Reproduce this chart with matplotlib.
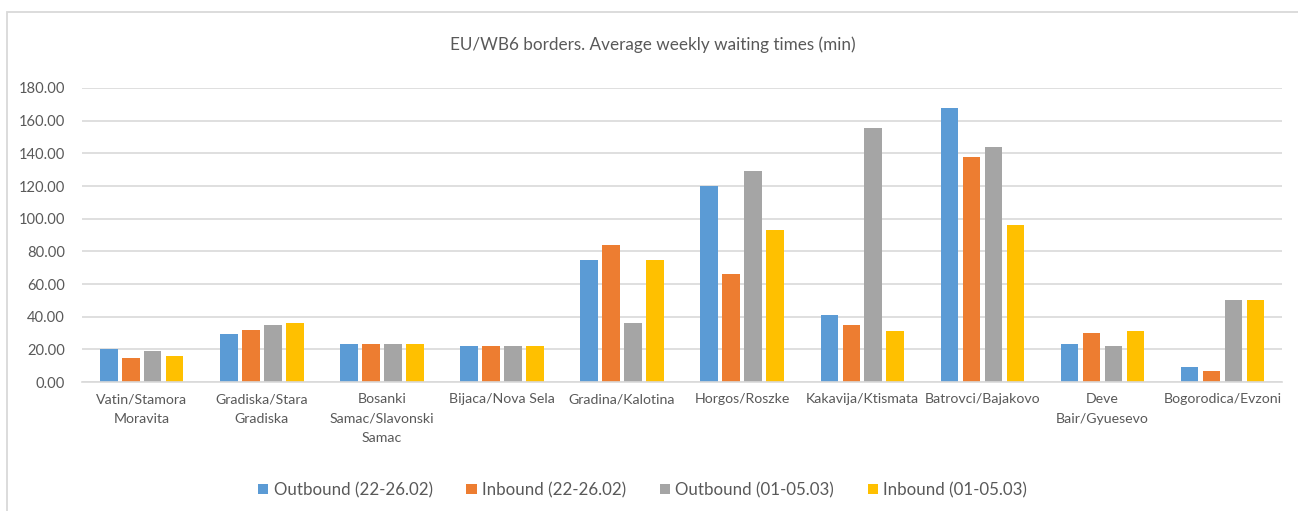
import numpy as np
import matplotlib
matplotlib.use('Agg')
import matplotlib.pyplot as plt
from matplotlib.patches import Rectangle

plt.rcParams['font.family'] = ['Lato', 'DejaVu Sans']

crossings = ['Vatin/Stamora\nMoravita', 'Gradiska/Stara\nGradiska', 'Bosanki\nSamac/Slavonski\nSamac',
             'Bijaca/Nova Sela', 'Gradina/Kalotina', 'Horgos/Roszke', 'Kakavija/Ktismata',
             'Batrovci/Bajakovo', 'Deve\nBair/Gyuesevo', 'Bogorodica/Evzoni']
out_feb = [20, 29.5, 23, 22, 75, 120, 41, 168, 23, 9]
in_feb = [15, 32, 23, 22, 84, 66, 35, 138, 30, 7]
out_mar = [19, 35, 23, 22, 36, 129, 155.5, 144, 22, 50]
in_mar = [16, 36, 23, 22, 75, 93, 31, 96, 31, 50]
series_names = ['Outbound (22-26.02)', 'Inbound (22-26.02)', 'Outbound (01-05.03)', 'Inbound (01-05.03)']
colors = ['#5B9BD5', '#ED7D31', '#A5A5A5', '#FFC000']

txt = '#595959'
fig = plt.figure(figsize=(12.98, 5.11), dpi=100)
ax = fig.add_axes([0.063, 0.2524, 0.925, 0.5754])

# outer chart frame
fig.patches.append(Rectangle((7/1298, -0.1), 1.2, 1 - 12/511 + 0.1, transform=fig.transFigure,
                             fill=False, edgecolor='#d9d9d9', lw=1.3))

x = np.arange(len(crossings))
w = 0.145
step = 0.183
for i, vals in enumerate([out_feb, in_feb, out_mar, in_mar]):
    ax.bar(x + (i - 1.5) * step, vals, width=w, color=colors[i], label=series_names[i], zorder=3)

ax.set_xlim(-0.5, len(crossings) - 0.5)
ax.set_ylim(0, 180)
ax.set_yticks(np.arange(0, 181, 20))
ax.set_yticklabels([f'{v:.2f}' for v in np.arange(0, 181, 20)])
ax.yaxis.grid(True, color='#d9d9d9', lw=1.2, zorder=0)
ax.set_xticks(x)
ax.set_xticklabels(crossings, linespacing=1.75)
ax.tick_params(axis='both', length=0, colors=txt)
ax.tick_params(axis='x', pad=8, labelsize=10.2)
ax.tick_params(axis='y', pad=12, labelsize=10.6)
for s in ['top', 'right', 'left']:
    ax.spines[s].set_visible(False)
ax.spines['bottom'].set_color('#d9d9d9')
ax.spines['bottom'].set_linewidth(1.2)
ax.spines['bottom'].set_zorder(4)

fig.text(0.503, 1 - 45/511, 'EU/WB6 borders. Average weekly waiting times (min)',
         ha='center', va='center', fontsize=12.3, color=txt)

leg = fig.legend(loc='center', bbox_to_anchor=(0.495, 1 - 490/511), ncol=4, frameon=False,
                 fontsize=12.2, handlelength=0.6, handleheight=0.6, handletextpad=0.3,
                 columnspacing=2.0)
for t in leg.get_texts():
    t.set_color(txt)

fig.savefig('out.png', dpi=100)
